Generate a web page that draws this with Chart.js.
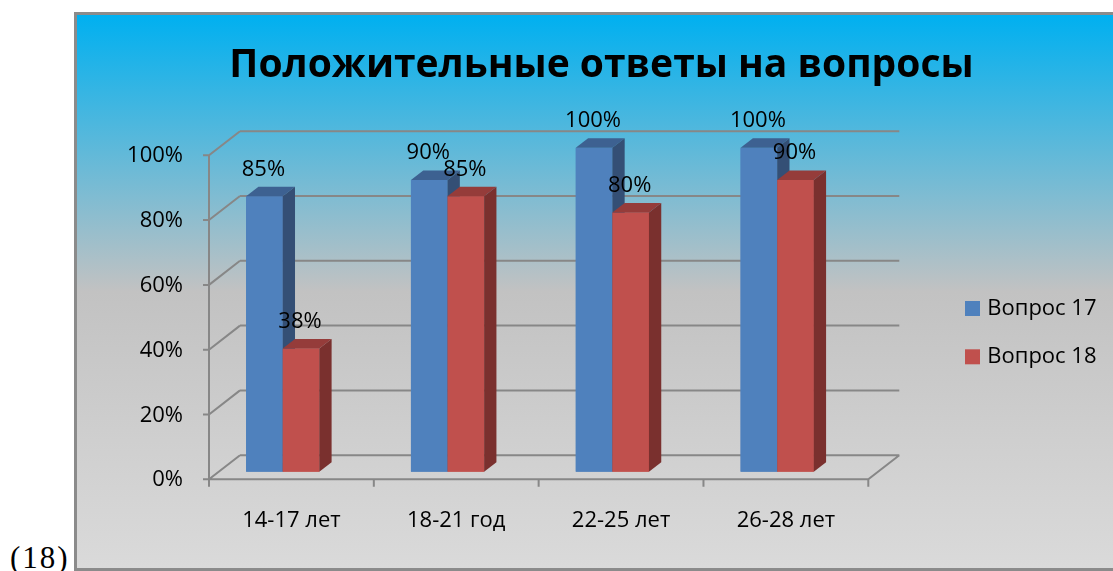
<!DOCTYPE html>
<html>
<head>
<meta charset="utf-8">
<title>Положительные ответы на вопросы</title>
<script src="https://cdn.jsdelivr.net/npm/chart.js@4.4.1/dist/chart.umd.min.js"></script>
<style>
    html, body { margin: 0; padding: 0; background: #fff; overflow: hidden; }
    #ramka {
        position: absolute; left: 74px; top: 12px; width: 1049px; height: 553px;
        border: 3px solid #8b8b8b;
        background: linear-gradient(to bottom, #00b0f0 0%, #c2c2c2 50%, #dadada 100%);
    }
    #ramka canvas { display: block; }
    #nomer { position: absolute; left: 10px; top: 542px; font: 31px/31px "Liberation Serif", serif; letter-spacing: 2px; color: #000; }
</style>
</head>
<body>
<span id="nomer">(18)</span>
<div id="ramka"><canvas id="bar-chart" width="1049" height="553"></canvas></div>
<script>
var vozrast = ['14-17 лет', '18-21 год', '22-25 лет', '26-28 лет'];
var vopros17 = [85, 90, 100, 100];
var vopros18 = [38, 85, 80, 90];
var procenty = [0, 20, 40, 60, 80, 100];

var shrift = 'Open Sans';
// offsets of the 3D box relative to the plane of the bars
var perednij = { x: 8.7, y: 7.6 };
var zadnij = { x: 39.7, y: -16.5 };
var glubina = { x: 12.3, y: -9.5 };

var korobka = {
    id: 'korobka',
    beforeDatasetsDraw: function(chart) {
        var c = chart.ctx, a = chart.chartArea;
        var sx = chart.scales.x, sy = chart.scales.y;
        var y0 = sy.getPixelForValue(0), y100 = sy.getPixelForValue(100);
        c.save();
        c.strokeStyle = '#878787';
        c.lineWidth = 2;
        c.beginPath();
        procenty.forEach(function(v) {
            var yy = sy.getPixelForValue(v);
            c.moveTo(a.left + zadnij.x, yy + zadnij.y);
            c.lineTo(a.right + zadnij.x, yy + zadnij.y);
            c.moveTo(a.left + perednij.x - 6, yy + perednij.y);
            c.lineTo(a.left + perednij.x, yy + perednij.y);
            c.lineTo(a.left + zadnij.x, yy + zadnij.y);
        });
        // front axis and floor
        c.moveTo(a.left + perednij.x, y100 + perednij.y);
        c.lineTo(a.left + perednij.x, y0 + perednij.y);
        c.lineTo(a.right + perednij.x, y0 + perednij.y);
        c.lineTo(a.right + zadnij.x, y0 + zadnij.y);
        var shag = sx.getPixelForValue(1) - sx.getPixelForValue(0);
        for (var i = 0; i <= vozrast.length; i++) {
            var xx = sx.getPixelForValue(i) - shag / 2 + perednij.x;
            c.moveTo(xx, y0 + perednij.y);
            c.lineTo(xx, y0 + perednij.y + 7.5);
        }
        c.stroke();
        c.restore();
    },
    afterDatasetsDraw: function(chart) {
        var c = chart.ctx;
        chart.data.datasets.forEach(function(ds, i) {
            var meta = chart.getDatasetMeta(i);
            c.save();
            meta.data.forEach(function(el) {
                // front face again so it covers the side of the previous series
                el.draw(c);
                var p = el.getProps(['x', 'y', 'base', 'width'], true);
                var l = p.x - p.width / 2, r = p.x + p.width / 2;
                c.fillStyle = ds.topColor;
                c.beginPath();
                c.moveTo(l, p.y);
                c.lineTo(r, p.y);
                c.lineTo(r + glubina.x, p.y + glubina.y);
                c.lineTo(l + glubina.x, p.y + glubina.y);
                c.closePath();
                c.fill();
                c.fillStyle = ds.sideColor;
                c.beginPath();
                c.moveTo(r, p.y);
                c.lineTo(r + glubina.x, p.y + glubina.y);
                c.lineTo(r + glubina.x, p.base + glubina.y);
                c.lineTo(r, p.base);
                c.closePath();
                c.fill();
            });
            c.restore();
        });
    },
    afterDraw: function(chart) {
        var c = chart.ctx;
        c.save();
        c.font = '22px "' + shrift + '"';
        c.fillStyle = '#000';
        c.textBaseline = 'middle';
        // value labels
        c.textAlign = 'center';
        chart.data.datasets.forEach(function(ds, i) {
            chart.getDatasetMeta(i).data.forEach(function(el, j) {
                c.fillText(ds.data[j] + '%', el.x - 1, el.y - 27);
            });
        });
        // legend
        c.textAlign = 'left';
        chart.data.datasets.forEach(function(ds, i) {
            var top = 286 + i * 48.3;
            c.fillStyle = ds.backgroundColor;
            c.fillRect(888, top, 15, 15);
            c.fillStyle = '#000';
            c.fillText(ds.label, 910.3, top + 7.5);
        });
        c.restore();
    }
};

var ctx = document.getElementById('bar-chart');
var chart = new Chart(ctx, {
    type: 'bar',
    data: {
        labels: vozrast,
        datasets: [
            {
                label: 'Вопрос 17',
                data: vopros17,
                backgroundColor: '#4f81bd',
                topColor: '#3d6191',
                sideColor: '#344f75'
            },
            {
                label: 'Вопрос 18',
                data: vopros18,
                backgroundColor: '#c0504d',
                topColor: '#953c3a',
                sideColor: '#7a302e'
            }
        ]
    },
    options: {
        responsive: false,
        animation: false,
        events: [],
        layout: { padding: 0 },
        datasets: { bar: { categoryPercentage: 0.444, barPercentage: 1, borderWidth: 0 } },
        scales: {
            x: {
                grid: { display: false, drawTicks: false },
                border: { display: false },
                ticks: {
                    color: '#000',
                    font: { family: shrift, size: 22, lineHeight: 1.2 },
                    padding: 35.6,
                    labelOffset: 8.7,
                    maxRotation: 0,
                    autoSkip: false
                },
                afterFit: function(s) { s.height = 96.3; }
            },
            y: {
                min: 0,
                max: 100,
                grid: { display: false, drawTicks: false },
                border: { display: false },
                ticks: {
                    color: '#000',
                    font: { family: shrift, size: 22, lineHeight: 1.2 },
                    padding: 17.3,
                    labelOffset: 8.5,
                    callback: function(v) { return v + '%'; }
                },
                afterBuildTicks: function(s) {
                    s.ticks = procenty.map(function(v) { return { value: v }; });
                },
                afterFit: function(s) { s.width = 123.3; }
            },
            mesto: {
                position: 'right',
                display: true,
                grid: { display: false, drawTicks: false },
                border: { display: false },
                ticks: { display: false },
                afterFit: function(s) { s.width = 266.4; }
            }
        },
        plugins: {
            legend: { display: false },
            tooltip: { enabled: false },
            title: {
                display: true,
                text: 'Положительные ответы на вопросы',
                color: '#000',
                font: { family: shrift, size: 39, weight: 'bold', lineHeight: 1.2 },
                padding: { top: 27.2, bottom: 58.7 }
            }
        }
    },
    plugins: [korobka]
});
</script>
</body>
</html>
